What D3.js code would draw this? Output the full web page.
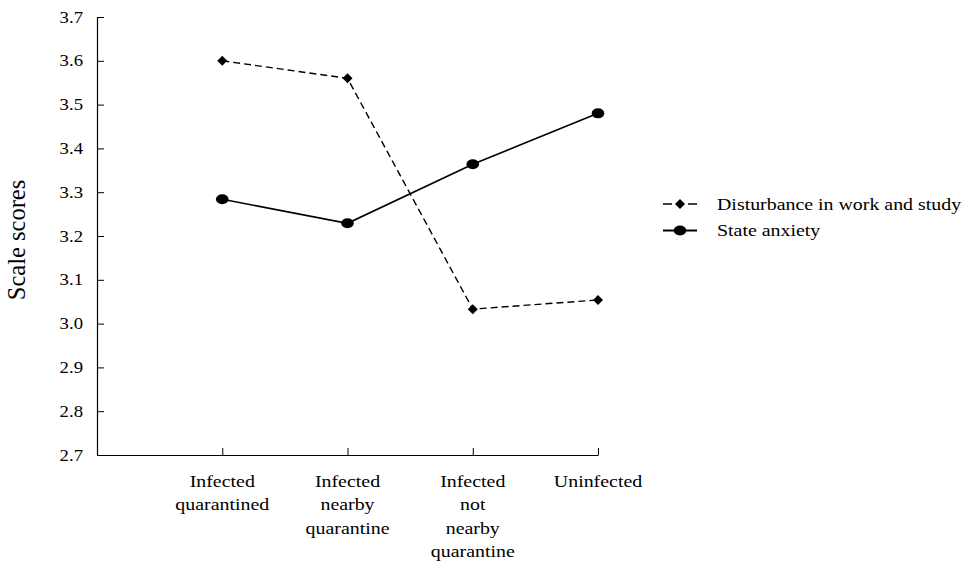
<!DOCTYPE html>
<html><head><meta charset="utf-8">
<script src="https://cdn.jsdelivr.net/npm/d3@7"></script>
<style>body{margin:0;background:#fff}</style>
</head><body>
<svg id="c" width="964" height="564" font-family="'Liberation Serif', 'Times New Roman', Times, serif"></svg>
<script>
const categories = [["Infected","quarantined"],["Infected","nearby","quarantine"],["Infected","not","nearby","quarantine"],["Uninfected"]];
const disturbance = [3.60, 3.56, 3.033, 3.054];
const anxiety = [3.284, 3.229, 3.364, 3.480];
const yTicks = [2.7, 2.8, 2.9, 3.0, 3.1, 3.2, 3.3, 3.4, 3.5, 3.6, 3.7];
const seriesNames = ["Disturbance in work and study", "State anxiety"];

const FONT = "'Liberation Serif', 'Times New Roman', Times, serif";
const SX = 1.17; // horizontal stretch of the reference's lettering

const svg = d3.select("#c");
const x = d3.scaleLinear().domain([-1, 3]).range([97, 598]);
const y = d3.scaleLinear().domain([2.7, 3.7]).range([455, 17]);

function stretchedText(g, tx, ty, size, anchor, str) {
  return g.append("text").attr("transform", `translate(${tx},${ty}) scale(${SX},1)`)
    .attr("text-anchor", anchor).attr("font-size", size).attr("font-family", FONT).attr("fill", "#000").text(str);
}

// y axis
const ya = svg.append("g").attr("transform", "translate(97,0)")
  .call(d3.axisLeft(y).tickValues(yTicks).tickFormat("").tickSizeInner(-7).tickSizeOuter(0));
ya.select(".domain").attr("stroke", "#000").attr("stroke-width", 1.2);
ya.selectAll(".tick line").attr("stroke", "#000");
yTicks.forEach(v => {
  stretchedText(svg, 83, y(v) + 5.5, 16, "end", d3.format(".1f")(v));
});

// x axis
const xa = svg.append("g").attr("transform", "translate(0,455)")
  .call(d3.axisBottom(x).tickValues([0,1,2,3]).tickFormat("").tickSizeInner(-7).tickSizeOuter(0));
xa.select(".domain").attr("stroke", "#000").attr("stroke-width", 1.2);
xa.selectAll(".tick line").attr("stroke", "#000");
categories.forEach((lines, i) => {
  lines.forEach((l, j) => stretchedText(svg, x(i), 487 + j * 23.3, 17, "middle", l));
});

// y title
svg.append("text").attr("transform", "translate(25,240) rotate(-90)").attr("text-anchor", "middle")
  .attr("font-size", 24.5).attr("font-family", FONT).attr("fill", "#000").text("Scale scores");

const line = d3.line().x((d, i) => x(i)).y(d => y(d));
const square = d3.symbol().type(d3.symbolSquare).size(50);

// disturbance
svg.append("path").datum(disturbance).attr("d", line).attr("fill", "none").attr("stroke", "#000")
  .attr("stroke-width", 1.4).attr("stroke-dasharray", "7,4");
svg.selectAll(".dm").data(disturbance).enter().append("path")
  .attr("transform", (d, i) => `translate(${x(i)},${y(d)}) rotate(45)`)
  .attr("d", square).attr("fill", "#000");

// anxiety
svg.append("path").datum(anxiety).attr("d", line).attr("fill", "none").attr("stroke", "#000").attr("stroke-width", 1.6);
svg.selectAll(".am").data(anxiety).enter().append("ellipse")
  .attr("cx", (d, i) => x(i)).attr("cy", d => y(d)).attr("rx", 6.3).attr("ry", 5).attr("fill", "#000");

// legend
const lg = svg.append("g");
lg.append("line").attr("x1", 663).attr("x2", 697).attr("y1", 204).attr("y2", 204).attr("stroke", "#000")
  .attr("stroke-width", 1.6).attr("stroke-dasharray", "9,16,9");
lg.append("path").attr("transform", "translate(680,204) rotate(45)").attr("d", square).attr("fill", "#000");
stretchedText(lg, 717, 209.5, 17, "start", seriesNames[0]);
lg.append("line").attr("x1", 663).attr("x2", 697).attr("y1", 230.5).attr("y2", 230.5).attr("stroke", "#000").attr("stroke-width", 1.8);
lg.append("ellipse").attr("cx", 680).attr("cy", 230.5).attr("rx", 6.3).attr("ry", 5).attr("fill", "#000");
stretchedText(lg, 717, 236, 17, "start", seriesNames[1]);
</script>
</body></html>
